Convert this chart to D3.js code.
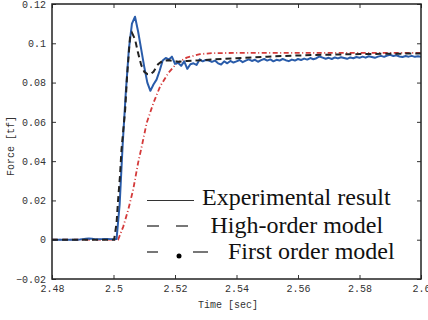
<!DOCTYPE html>
<html>
<head>
<meta charset="utf-8">
<script src="https://cdn.jsdelivr.net/npm/d3@7"></script>
<style>
  body { margin: 0; background: #fff; }
  svg { display: block; }
  .tick text { font-family: "Liberation Mono", "DejaVu Sans Mono", monospace; font-size: 10px; fill: #333; }
  .tick line { stroke: #333; }
</style>
</head>
<body>
<div id="chart"></div>
<script>
// axis ticks
const xTicks = [2.48, 2.5, 2.52, 2.54, 2.56, 2.58, 2.6]
const yTicks = [-0.02, 0, 0.02, 0.04, 0.06, 0.08, 0.1, 0.12]

// experimental result, sampled every 1 ms from 2.480 s
const expStart = 2.48
const expStep = 0.001
const expForce = [
    0, 0, 0, 0, 0, 0, 0, 0, 0, 0.0001,
    0.0003, 0.0005, 0.0006, 0.0005, 0.0003, 0.0002, 0.0003, 0.0004, 0.0004, 0.0003,
    0.0002, 0.0004, 0.018, 0.049, 0.075, 0.097, 0.110, 0.1135, 0.106, 0.097,
    0.088, 0.080, 0.0758, 0.079, 0.0815, 0.086, 0.0912, 0.0925, 0.0918, 0.0932,
    0.0895, 0.0901, 0.0885, 0.0908, 0.0870, 0.0893, 0.0898, 0.0890, 0.0918, 0.0908,
    0.0915, 0.0912, 0.0905, 0.0912, 0.0898, 0.0892, 0.0908, 0.0898, 0.0910, 0.0902,
    0.0908, 0.0915, 0.0904, 0.0912, 0.0918, 0.0910, 0.0916, 0.0906, 0.0914, 0.0920,
    0.0912, 0.0918, 0.0908, 0.0916, 0.0912, 0.0920, 0.0914, 0.0909, 0.0917, 0.0912,
    0.0920, 0.0915, 0.0922, 0.0917, 0.0925, 0.0919, 0.0924, 0.0933, 0.0927, 0.0921,
    0.0926, 0.0920, 0.0928, 0.0923, 0.0929, 0.0925, 0.0921, 0.0928, 0.0924, 0.0930,
    0.0926, 0.0932, 0.0927, 0.0934, 0.0930, 0.0926, 0.0932, 0.0936, 0.0931, 0.0938,
    0.0941, 0.0935, 0.0939, 0.0933, 0.0930, 0.0935, 0.0932, 0.0936, 0.0931, 0.0934,
    0.0932
]

// high-order model
const hiTime = [2.48, 2.5002, 2.501, 2.5015, 2.5021, 2.5026, 2.5038, 2.5044, 2.5054, 2.506,
    2.507, 2.508, 2.509, 2.510, 2.511, 2.512, 2.513, 2.5145, 2.516, 2.518,
    2.521, 2.524, 2.528, 2.533, 2.54, 2.55, 2.56, 2.57, 2.58, 2.59, 2.60]
const hiForce = [0, 0, 0.0085, 0.0204, 0.0323, 0.0459, 0.0663, 0.0830, 0.1037, 0.1054,
    0.1020, 0.0950, 0.0890, 0.0855, 0.0843, 0.0842, 0.0855, 0.0893, 0.0911, 0.0914,
    0.0906, 0.0910, 0.0913, 0.0918, 0.0924, 0.0932, 0.0938, 0.0942, 0.0945, 0.0947, 0.0948]

// first order model
const foTime = [2.48, 2.5015, 2.5032, 2.5048, 2.5064, 2.508, 2.5092, 2.5108, 2.513, 2.5152,
    2.5179, 2.5206, 2.5238, 2.5281, 2.5324, 2.54, 2.56, 2.58, 2.6]
const foForce = [0, 0, 0.0068, 0.0153, 0.0255, 0.0391, 0.0476, 0.0595, 0.0697, 0.0782,
    0.0850, 0.0898, 0.0927, 0.0945, 0.0950, 0.0951, 0.0951, 0.0951, 0.0951]

const legendNames = ["Experimental result", "High-order model", "First order model"]

const W = 428, H = 320
const margin = { top: 4, right: 7, bottom: 41, left: 52 }
const width = W - margin.left - margin.right
const height = H - margin.top - margin.bottom

const root = d3.select("#chart").append("svg")
    .attr("width", W)
    .attr("height", H)

const svg = root.append("g")
    .attr("transform", `translate(${margin.left},${margin.top})`)

const x = d3.scaleLinear().domain([2.48, 2.6]).range([0, width])
const y = d3.scaleLinear().domain([-0.02, 0.12]).range([height, 0])

svg.append("defs").append("clipPath").attr("id", "clip")
    .append("rect").attr("width", width).attr("height", height)

const fmt = d => d === 0 ? "0" : d3.format("")(+d.toFixed(2))

// axes with inward ticks on all four sides
svg.append("g")
    .attr("transform", `translate(0,${height})`)
    .call(d3.axisBottom(x).tickValues(xTicks).tickFormat(fmt).tickSizeInner(-4).tickSizeOuter(0).tickPadding(6))
svg.append("g")
    .call(d3.axisLeft(y).tickValues(yTicks).tickFormat(fmt).tickSizeInner(-4).tickSizeOuter(0).tickPadding(6))
svg.append("g")
    .call(d3.axisTop(x).tickValues(xTicks).tickFormat("").tickSizeInner(-4).tickSizeOuter(0))
svg.append("g")
    .attr("transform", `translate(${width},0)`)
    .call(d3.axisRight(y).tickValues(yTicks).tickFormat("").tickSizeInner(-4).tickSizeOuter(0))
svg.selectAll(".domain").remove()

const lines = svg.append("g").attr("clip-path", "url(#clip)")

const expLine = d3.line()
    .x((d, i) => x(expStart + i * expStep))
    .y(d => y(d))

const pairLine = d3.line()
    .x(d => x(d[0]))
    .y(d => y(d[1]))

lines.append("path")
    .datum(foTime.map((t, i) => [t, foForce[i]]))
    .attr("d", pairLine)
    .attr("fill", "none")
    .attr("stroke", "#d43a3a")
    .attr("stroke-width", 1.8)
    .attr("stroke-dasharray", "5,2.5,1,2.5")

lines.append("path")
    .datum(expForce)
    .attr("d", expLine)
    .attr("fill", "none")
    .attr("stroke", "#2a5caa")
    .attr("stroke-width", 2)
    .attr("stroke-linejoin", "round")

lines.append("path")
    .datum(hiTime.map((t, i) => [t, hiForce[i]]))
    .attr("d", pairLine)
    .attr("fill", "none")
    .attr("stroke", "#222")
    .attr("stroke-width", 2)
    .attr("stroke-dasharray", "6,4")

// plot frame
svg.append("rect")
    .attr("width", width)
    .attr("height", height)
    .attr("fill", "none")
    .attr("stroke", "#222")
    .attr("stroke-width", 1.5)

// axis titles
root.append("text")
    .attr("x", 228)
    .attr("y", 308)
    .attr("text-anchor", "middle")
    .style("font-family", "Liberation Mono, DejaVu Sans Mono, monospace")
    .style("font-size", "10px")
    .style("fill", "#333")
    .text("Time [sec]")

root.append("text")
    .attr("transform", "translate(14,146) rotate(-90)")
    .attr("text-anchor", "middle")
    .style("font-family", "Liberation Mono, DejaVu Sans Mono, monospace")
    .style("font-size", "10px")
    .style("fill", "#333")
    .text("Force [tf]")

// legend
const legend = root.append("g")

legend.append("line")
    .attr("x1", 147).attr("x2", 194).attr("y1", 200.5).attr("y2", 200.5)
    .attr("stroke", "#333").attr("stroke-width", 1.2)

legend.append("line")
    .attr("x1", 147).attr("x2", 190).attr("y1", 226).attr("y2", 226)
    .attr("stroke", "#777").attr("stroke-width", 2)
    .attr("stroke-dasharray", "12,17")

legend.append("line")
    .attr("x1", 147).attr("x2", 208).attr("y1", 252).attr("y2", 252)
    .attr("stroke", "#777").attr("stroke-width", 2)
    .attr("stroke-dasharray", "11,35,15")

legend.append("circle")
    .attr("cx", 179).attr("cy", 256).attr("r", 2.5)
    .attr("fill", "#000")

const legendPos = [[202, 205], [210.5, 232.5], [228, 258.5]]
legend.selectAll("text.leg")
    .data(legendNames)
    .enter().append("text")
    .attr("class", "leg")
    .attr("x", (d, i) => legendPos[i][0])
    .attr("y", (d, i) => legendPos[i][1])
    .style("font-family", "Liberation Serif, Times New Roman, serif")
    .style("font-size", "24px")
    .style("fill", "#111")
    .text(d => d)
</script>
</body>
</html>
